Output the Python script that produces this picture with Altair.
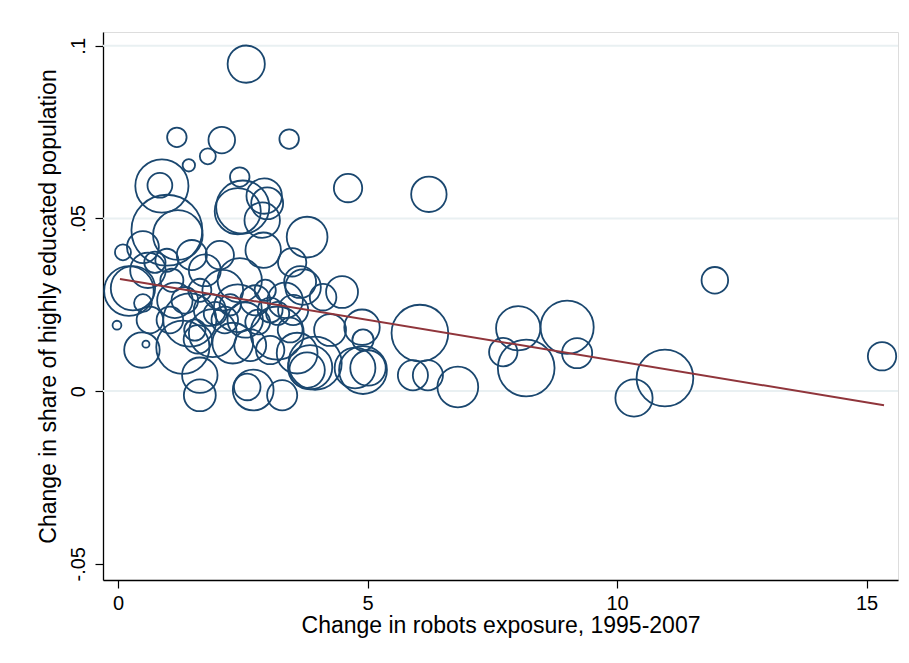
import altair as alt
import pandas as pd

# Change in robots exposure, 1995-2007
robots = [2.57, 1.18, 2.08, 3.43, 1.80, 1.42, 4.61, 6.23, 0.88, 0.84,
          2.44, 2.50, 2.40, 2.93, 2.99, 2.89, 0.98, 3.79, 2.91, 0.10,
          0.50, 1.20, 1.48, 0.60, 0.30, 0.22, 1.08, 0.50, -0.02, 0.56,
          0.48, 2.10, 2.40, 3.71, 4.49, 4.11, 3.65, 3.51, 1.64, 2.59,
          1.64, 2.71, 3.29, 3.79, 3.85, 4.91, 5.01, 4.91, 4.89, 1.30,
          1.44, 1.90, 2.30, 3.19, 3.59, 3.95, 4.75, 5.91, 6.21, 6.81,
          6.05, 8.02, 9.00, 8.18, 7.72, 9.20, 10.96, 10.34, 11.96, 15.31,
          1.34, 1.64, 1.84, 2.14, 2.55, 2.75, 3.05, 2.95, 2.44, 3.35,
          1.74, 2.04, 1.14, 1.54, 1.04, 2.65, 3.05, 3.45, 0.98, 0.74,
          3.49, 4.25, 0.64, 1.95, 2.25, 2.80, 1.60, 3.20]
# Change in share of highly educated population
educ = [0.0947, 0.0735, 0.0727, 0.0730, 0.0680, 0.0654, 0.0588, 0.0570, 0.0594, 0.0596,
        0.0620, 0.0533, 0.0521, 0.0565, 0.0544, 0.0495, 0.0466, 0.0446, 0.0408, 0.0402,
        0.0417, 0.0452, 0.0394, 0.0350, 0.0298, 0.0290, 0.0321, 0.0255, 0.0191, 0.0136,
        0.0119, 0.0292, 0.0240, 0.0301, 0.0287, 0.0272, 0.0316, 0.0235, 0.0046, 0.0012,
        -0.0012, 0.0003, -0.0012, 0.0061, 0.0069, 0.0061, 0.0067, 0.0148, 0.0185, 0.0127,
        0.0206, 0.0168, 0.0139, 0.0168, 0.0110, 0.0081, 0.0067, 0.0046, 0.0046, 0.0012,
        0.0168, 0.0182, 0.0185, 0.0067, 0.0113, 0.0110, 0.0038, -0.0020, 0.0321, 0.0101,
        0.0263, 0.0292, 0.0235, 0.0206, 0.0206, 0.0263, 0.0235, 0.0292, 0.0321, 0.0263,
        0.0350, 0.0394, 0.0263, 0.0177, 0.0206, 0.0133, 0.0119, 0.0177, 0.0379, 0.0373,
        0.0373, 0.0177, 0.0206, 0.0225, 0.0250, 0.0200, 0.0150, 0.0225]
# Population weights
weight = [441, 121, 225, 121, 81, 49, 256, 400, 900, 196,
          121, 900, 676, 400, 324, 400, 1600, 529, 400, 81,
          324, 784, 289, 400, 625, 784, 169, 100, 25, 16,
          400, 529, 729, 400, 324, 225, 324, 289, 400, 225,
          324, 529, 289, 400, 625, 729, 400, 144, 400, 900,
          900, 729, 529, 900, 529, 900, 529, 289, 289, 529,
          1024, 625, 900, 1024, 256, 289, 1024, 441, 225, 256,
          225, 169, 324, 225, 400, 289, 196, 144, 625, 400,
          324, 256, 400, 144, 225, 324, 256, 196, 169, 144,
          256, 324, 225, 169, 144, 196, 256, 169]

# Fitted line end points
fit_x = [0.04, 15.35]
fit_y = [0.0325, -0.0041]

grid_vals = [0.0, 0.05, 0.1]
y_ticks = [-0.05, 0.0, 0.05, 0.1]
x_ticks = [0, 5, 10, 15]

XT = "Change in robots exposure, 1995-2007"
YT = "Change in share of highly educated population"

pts = pd.DataFrame({XT: robots, YT: educ, "weight": weight})
fit = pd.DataFrame({XT: fit_x, YT: fit_y})
grid = pd.DataFrame({YT: grid_vals})

FONT = "Liberation Sans"
xscale = alt.Scale(domain=[-0.30, 15.63], nice=False, zero=False)
yscale = alt.Scale(domain=[-0.0547, 0.104], nice=False, zero=False)

xaxis = alt.Axis(values=x_ticks, title=XT,
                 grid=False, domainColor="black", domainWidth=1.3,
                 tickColor="black", tickSize=8, tickWidth=1.2,
                 labelFont=FONT, labelFontSize=20, labelColor="black",
                 labelPadding=5, titleFont=FONT, titleFontSize=23,
                 titleFontWeight="normal", titleColor="black", titlePadding=1)
yaxis = alt.Axis(values=y_ticks, title=YT,
                 grid=False, domainColor="black", domainWidth=1.3,
                 tickColor="black", tickSize=8, tickWidth=1.2,
                 labelAngle=-90, labelAlign="center", labelBaseline="bottom",
                 labelFont=FONT, labelFontSize=20, labelColor="black", labelPadding=7,
                 labelExpr="datum.value == 0 ? '0' : (datum.value < 0 ? '-' : '') + replace(format(abs(datum.value), '.2~f'), '0.', '.')",
                 titleFont=FONT, titleFontSize=23, titleFontWeight="normal",
                 titleColor="black", titlePadding=8)

Xenc = alt.X(f"{XT}:Q", scale=xscale, axis=xaxis)
Yenc = alt.Y(f"{YT}:Q", scale=yscale, axis=yaxis)

gridlines = alt.Chart(grid).mark_rule(color="#e9f0f2", strokeWidth=2).encode(
    y=Yenc
)

frame_top = alt.Chart(grid).mark_rule(color="#dfe7ea", strokeWidth=1.5).encode(
    x=alt.value(-91), x2=alt.value(806), y=alt.value(-25)
)

circles = alt.Chart(pts).mark_point(
    shape="circle", filled=False, color="#1a476f", strokeWidth=1.8, opacity=1
).encode(
    x=Xenc,
    y=Yenc,
    size=alt.Size("weight:Q", scale=alt.Scale(domain=[0, 1000], range=[0, 3142], zero=True), legend=None),
)

line = alt.Chart(fit).mark_line(color="#90353b", strokeWidth=2).encode(
    x=Xenc,
    y=Yenc,
)

chart = alt.layer(frame_top, gridlines, circles, line).properties(
    width=795, height=548,
    autosize=alt.AutoSizeParams(type="none"),
    padding={"left": 95, "top": 24, "right": 3, "bottom": 75},
).configure_view(stroke=None).configure(background="white")

chart.save("out.html", embed_options={"renderer": "svg", "actions": False})
